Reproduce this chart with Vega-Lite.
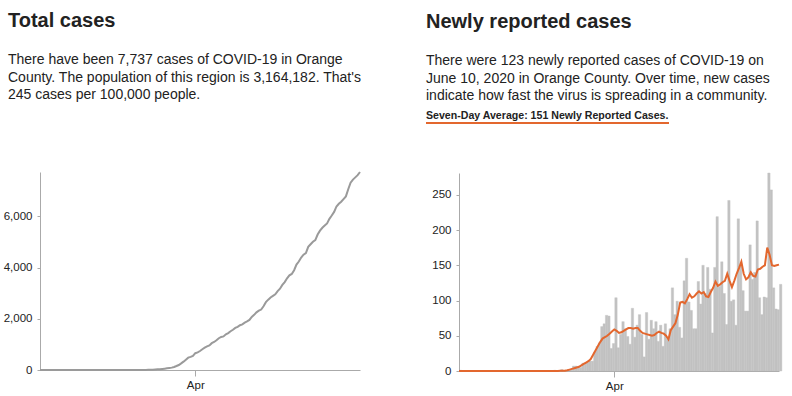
{
  "$schema": "https://vega.github.io/schema/vega-lite/v6.json",
  "padding": {"left": 3, "top": 11, "right": 5, "bottom": 0},
  "background": "white",
  "config": {
    "font": "Liberation Sans",
    "view": {"stroke": null},
    "axis": {"labelFont": "Liberation Sans", "labelFontSize": 11.5, "labelColor": "#222", "domainColor": "#aaa", "tickColor": "#aaa", "grid": false, "title": null},
    "title": {"anchor": "start", "frame": "bounds", "font": "Liberation Sans", "fontSize": 20, "fontWeight": "bold", "color": "#222", "subtitleFont": "Liberation Sans", "subtitleFontSize": 14, "subtitleColor": "#222", "subtitleLineHeight": 17.5, "subtitlePadding": 22}
  },
  "datasets": {
    "covid": [
      {"date": "2020-01-26T00:00", "cases": 1, "total": 1, "avg": 0.1},
      {"date": "2020-01-27T00:00", "cases": 0, "total": 1, "avg": 0.1},
      {"date": "2020-01-28T00:00", "cases": 0, "total": 1, "avg": 0.1},
      {"date": "2020-01-29T00:00", "cases": 0, "total": 1, "avg": 0.1},
      {"date": "2020-01-30T00:00", "cases": 0, "total": 1, "avg": 0.1},
      {"date": "2020-01-31T00:00", "cases": 0, "total": 1, "avg": 0.1},
      {"date": "2020-02-01T00:00", "cases": 0, "total": 1, "avg": 0.1},
      {"date": "2020-02-02T00:00", "cases": 0, "total": 1, "avg": 0},
      {"date": "2020-02-03T00:00", "cases": 0, "total": 1, "avg": 0},
      {"date": "2020-02-04T00:00", "cases": 0, "total": 1, "avg": 0},
      {"date": "2020-02-05T00:00", "cases": 0, "total": 1, "avg": 0},
      {"date": "2020-02-06T00:00", "cases": 0, "total": 1, "avg": 0},
      {"date": "2020-02-07T00:00", "cases": 0, "total": 1, "avg": 0},
      {"date": "2020-02-08T00:00", "cases": 0, "total": 1, "avg": 0},
      {"date": "2020-02-09T00:00", "cases": 0, "total": 1, "avg": 0},
      {"date": "2020-02-10T00:00", "cases": 0, "total": 1, "avg": 0},
      {"date": "2020-02-11T00:00", "cases": 0, "total": 1, "avg": 0},
      {"date": "2020-02-12T00:00", "cases": 0, "total": 1, "avg": 0},
      {"date": "2020-02-13T00:00", "cases": 0, "total": 1, "avg": 0},
      {"date": "2020-02-14T00:00", "cases": 0, "total": 1, "avg": 0},
      {"date": "2020-02-15T00:00", "cases": 0, "total": 1, "avg": 0},
      {"date": "2020-02-16T00:00", "cases": 0, "total": 1, "avg": 0},
      {"date": "2020-02-17T00:00", "cases": 0, "total": 1, "avg": 0},
      {"date": "2020-02-18T00:00", "cases": 0, "total": 1, "avg": 0},
      {"date": "2020-02-19T00:00", "cases": 0, "total": 1, "avg": 0},
      {"date": "2020-02-20T00:00", "cases": 0, "total": 1, "avg": 0},
      {"date": "2020-02-21T00:00", "cases": 0, "total": 1, "avg": 0},
      {"date": "2020-02-22T00:00", "cases": 0, "total": 1, "avg": 0},
      {"date": "2020-02-23T00:00", "cases": 0, "total": 1, "avg": 0},
      {"date": "2020-02-24T00:00", "cases": 0, "total": 1, "avg": 0},
      {"date": "2020-02-25T00:00", "cases": 0, "total": 1, "avg": 0},
      {"date": "2020-02-26T00:00", "cases": 0, "total": 1, "avg": 0},
      {"date": "2020-02-27T00:00", "cases": 0, "total": 1, "avg": 0},
      {"date": "2020-02-28T00:00", "cases": 0, "total": 1, "avg": 0},
      {"date": "2020-02-29T00:00", "cases": 0, "total": 1, "avg": 0},
      {"date": "2020-03-01T00:00", "cases": 0, "total": 1, "avg": 0},
      {"date": "2020-03-02T00:00", "cases": 0, "total": 1, "avg": 0},
      {"date": "2020-03-03T00:00", "cases": 0, "total": 1, "avg": 0},
      {"date": "2020-03-04T00:00", "cases": 0, "total": 1, "avg": 0},
      {"date": "2020-03-05T00:00", "cases": 0, "total": 1, "avg": 0},
      {"date": "2020-03-06T00:00", "cases": 1, "total": 2, "avg": 0.1},
      {"date": "2020-03-07T00:00", "cases": 0, "total": 2, "avg": 0.1},
      {"date": "2020-03-08T00:00", "cases": 0, "total": 2, "avg": 0.1},
      {"date": "2020-03-09T00:00", "cases": 2, "total": 4, "avg": 0.4},
      {"date": "2020-03-10T00:00", "cases": 0, "total": 4, "avg": 0.4},
      {"date": "2020-03-11T00:00", "cases": 0, "total": 4, "avg": 0.4},
      {"date": "2020-03-12T00:00", "cases": 1, "total": 5, "avg": 1},
      {"date": "2020-03-13T00:00", "cases": 2, "total": 7, "avg": 2},
      {"date": "2020-03-14T00:00", "cases": 7, "total": 14, "avg": 3},
      {"date": "2020-03-15T00:00", "cases": 7, "total": 21, "avg": 4},
      {"date": "2020-03-16T00:00", "cases": 5, "total": 26, "avg": 5},
      {"date": "2020-03-17T00:00", "cases": 5, "total": 31, "avg": 6},
      {"date": "2020-03-18T00:00", "cases": 11, "total": 42, "avg": 8},
      {"date": "2020-03-19T00:00", "cases": 11, "total": 53, "avg": 10},
      {"date": "2020-03-20T00:00", "cases": 12, "total": 65, "avg": 12},
      {"date": "2020-03-21T00:00", "cases": 14, "total": 79, "avg": 14},
      {"date": "2020-03-22T00:00", "cases": 14, "total": 93, "avg": 17},
      {"date": "2020-03-23T00:00", "cases": 27, "total": 120, "avg": 23},
      {"date": "2020-03-24T00:00", "cases": 35, "total": 155, "avg": 29},
      {"date": "2020-03-25T00:00", "cases": 40, "total": 195, "avg": 35},
      {"date": "2020-03-26T00:00", "cases": 63, "total": 258, "avg": 41},
      {"date": "2020-03-27T00:00", "cases": 67, "total": 325, "avg": 46},
      {"date": "2020-03-28T00:00", "cases": 79, "total": 404, "avg": 48},
      {"date": "2020-03-29T00:00", "cases": 78, "total": 482, "avg": 50},
      {"date": "2020-03-30T00:00", "cases": 32, "total": 514, "avg": 53},
      {"date": "2020-03-31T00:00", "cases": 39, "total": 553, "avg": 56},
      {"date": "2020-04-01T00:00", "cases": 104, "total": 657, "avg": 59},
      {"date": "2020-04-02T00:00", "cases": 33, "total": 690, "avg": 57},
      {"date": "2020-04-03T00:00", "cases": 52, "total": 742, "avg": 54},
      {"date": "2020-04-04T00:00", "cases": 70, "total": 812, "avg": 55},
      {"date": "2020-04-05T00:00", "cases": 60, "total": 872, "avg": 57},
      {"date": "2020-04-06T00:00", "cases": 49, "total": 921, "avg": 59},
      {"date": "2020-04-07T00:00", "cases": 38, "total": 959, "avg": 61},
      {"date": "2020-04-08T00:00", "cases": 89, "total": 1048, "avg": 61},
      {"date": "2020-04-09T00:00", "cases": 48, "total": 1096, "avg": 60},
      {"date": "2020-04-10T00:00", "cases": 65, "total": 1161, "avg": 61},
      {"date": "2020-04-11T00:00", "cases": 80, "total": 1241, "avg": 61},
      {"date": "2020-04-12T00:00", "cases": 52, "total": 1293, "avg": 57},
      {"date": "2020-04-13T00:00", "cases": 20, "total": 1313, "avg": 54},
      {"date": "2020-04-14T00:00", "cases": 83, "total": 1396, "avg": 53},
      {"date": "2020-04-15T00:00", "cases": 45, "total": 1441, "avg": 52},
      {"date": "2020-04-16T00:00", "cases": 72, "total": 1513, "avg": 51},
      {"date": "2020-04-17T00:00", "cases": 60, "total": 1573, "avg": 50},
      {"date": "2020-04-18T00:00", "cases": 70, "total": 1643, "avg": 51},
      {"date": "2020-04-19T00:00", "cases": 42, "total": 1685, "avg": 54},
      {"date": "2020-04-20T00:00", "cases": 65, "total": 1750, "avg": 56},
      {"date": "2020-04-21T00:00", "cases": 35, "total": 1785, "avg": 54},
      {"date": "2020-04-22T00:00", "cases": 67, "total": 1852, "avg": 53},
      {"date": "2020-04-23T00:00", "cases": 45, "total": 1897, "avg": 50},
      {"date": "2020-04-24T00:00", "cases": 60, "total": 1957, "avg": 45},
      {"date": "2020-04-25T00:00", "cases": 118, "total": 2075, "avg": 58},
      {"date": "2020-04-26T00:00", "cases": 80, "total": 2155, "avg": 63},
      {"date": "2020-04-27T00:00", "cases": 99, "total": 2254, "avg": 68},
      {"date": "2020-04-28T00:00", "cases": 62, "total": 2316, "avg": 80},
      {"date": "2020-04-29T00:00", "cases": 47, "total": 2363, "avg": 97},
      {"date": "2020-04-30T00:00", "cases": 128, "total": 2491, "avg": 98},
      {"date": "2020-05-01T00:00", "cases": 160, "total": 2651, "avg": 96},
      {"date": "2020-05-02T00:00", "cases": 98, "total": 2749, "avg": 102},
      {"date": "2020-05-03T00:00", "cases": 86, "total": 2835, "avg": 109},
      {"date": "2020-05-04T00:00", "cases": 60, "total": 2895, "avg": 104},
      {"date": "2020-05-05T00:00", "cases": 60, "total": 2955, "avg": 106},
      {"date": "2020-05-06T00:00", "cases": 127, "total": 3082, "avg": 110},
      {"date": "2020-05-07T00:00", "cases": 95, "total": 3177, "avg": 113},
      {"date": "2020-05-08T00:00", "cases": 150, "total": 3327, "avg": 110},
      {"date": "2020-05-09T00:00", "cases": 110, "total": 3437, "avg": 112},
      {"date": "2020-05-10T00:00", "cases": 147, "total": 3584, "avg": 106},
      {"date": "2020-05-11T00:00", "cases": 116, "total": 3700, "avg": 105},
      {"date": "2020-05-12T00:00", "cases": 54, "total": 3754, "avg": 112},
      {"date": "2020-05-13T00:00", "cases": 147, "total": 3901, "avg": 118},
      {"date": "2020-05-14T00:00", "cases": 219, "total": 4120, "avg": 127},
      {"date": "2020-05-15T00:00", "cases": 120, "total": 4240, "avg": 121},
      {"date": "2020-05-16T00:00", "cases": 155, "total": 4395, "avg": 123},
      {"date": "2020-05-17T00:00", "cases": 110, "total": 4505, "avg": 126},
      {"date": "2020-05-18T00:00", "cases": 66, "total": 4571, "avg": 128},
      {"date": "2020-05-19T00:00", "cases": 242, "total": 4813, "avg": 138},
      {"date": "2020-05-20T00:00", "cases": 99, "total": 4912, "avg": 128},
      {"date": "2020-05-21T00:00", "cases": 101, "total": 5013, "avg": 119},
      {"date": "2020-05-22T00:00", "cases": 65, "total": 5078, "avg": 128},
      {"date": "2020-05-23T00:00", "cases": 216, "total": 5294, "avg": 138},
      {"date": "2020-05-24T00:00", "cases": 150, "total": 5444, "avg": 146},
      {"date": "2020-05-25T00:00", "cases": 114, "total": 5558, "avg": 155},
      {"date": "2020-05-26T00:00", "cases": 85, "total": 5643, "avg": 138},
      {"date": "2020-05-27T00:00", "cases": 85, "total": 5728, "avg": 130},
      {"date": "2020-05-28T00:00", "cases": 179, "total": 5907, "avg": 133},
      {"date": "2020-05-29T00:00", "cases": 130, "total": 6037, "avg": 140},
      {"date": "2020-05-30T00:00", "cases": 140, "total": 6177, "avg": 135},
      {"date": "2020-05-31T00:00", "cases": 213, "total": 6390, "avg": 134},
      {"date": "2020-06-01T00:00", "cases": 104, "total": 6494, "avg": 144},
      {"date": "2020-06-02T00:00", "cases": 80, "total": 6574, "avg": 145},
      {"date": "2020-06-03T00:00", "cases": 105, "total": 6679, "avg": 148},
      {"date": "2020-06-04T00:00", "cases": 104, "total": 6783, "avg": 150},
      {"date": "2020-06-05T00:00", "cases": 281, "total": 7064, "avg": 175},
      {"date": "2020-06-06T00:00", "cases": 257, "total": 7321, "avg": 165},
      {"date": "2020-06-07T00:00", "cases": 118, "total": 7439, "avg": 150},
      {"date": "2020-06-08T00:00", "cases": 88, "total": 7527, "avg": 149},
      {"date": "2020-06-09T00:00", "cases": 87, "total": 7614, "avg": 150},
      {"date": "2020-06-10T00:00", "cases": 123, "total": 7737, "avg": 151}
    ]
  },
  "spacing": 62,
  "hconcat": [
    {
      "title": {
        "text": "Total cases",
        "subtitle": ["There have been 7,737 cases of COVID-19 in Orange", "County. The population of this region is 3,164,182. That's", "245 cases per 100,000 people."],
        "dx": 5,
        "offset": 20
      },
      "columns": 1,
      "align": "none",
      "spacing": 44,
      "concat": [
        {
          "width": 320,
          "height": 2,
          "data": {"values": [{"series": "spacer"}]},
          "mark": {"type": "rect", "opacity": 0},
          "encoding": {}
        },
        {
          "width": 320,
          "height": 198,
          "data": {"name": "covid"},
          "mark": {"type": "line", "color": "#9a9a9a", "strokeWidth": 2},
          "encoding": {
            "x": {
              "field": "date", "type": "temporal",
              "scale": {"domain": [{"year": 2020, "month": 1, "date": 26}, {"year": 2020, "month": 6, "date": 10}]},
              "axis": {"values": [{"year": 2020, "month": 4, "date": 1}], "format": "%b", "tickSize": 6, "labelPadding": 3}
            },
            "y": {
              "field": "total", "type": "quantitative",
              "scale": {"domain": [0, 7737], "nice": false},
              "axis": {"values": [0, 2000, 4000, 6000], "format": ",d", "tickSize": 3, "labelPadding": 5, "minExtent": 37}
            }
          }
        }
      ]
    },
    {
      "title": {
        "text": "Newly reported cases",
        "subtitle": ["There were 123 newly reported cases of COVID-19 on", "June 10, 2020 in Orange County. Over time, new cases", "indicate how fast the virus is spreading in a community."],
        "offset": 8
      },
      "columns": 1,
      "align": "none",
      "spacing": 48,
      "concat": [
        {
          "title": {"text": "Seven-Day Average: 151 Newly Reported Cases.", "fontSize": 10.6, "fontWeight": "bold", "color": "#222", "offset": 0},
          "width": 243,
          "height": 2,
          "data": {"values": [{"series": "Seven-Day Average"}]},
          "mark": {"type": "rect", "color": "#e3672e"},
          "encoding": {}
        },
        {
          "width": 353,
          "height": 198,
          "data": {"name": "covid"},
          "layer": [
            {
              "mark": {"type": "bar", "color": "#c2c2c2", "binSpacing": 0, "stroke": "#c2c2c2", "strokeWidth": 0.4},
              "encoding": {
                "x": {
                  "field": "date", "timeUnit": "yearmonthdate", "type": "temporal",
                  "scale": {"domain": [{"year": 2020, "month": 1, "date": 26}, {"year": 2020, "month": 6, "date": 10}], "range": [33, 353]},
                  "axis": {"values": [{"year": 2020, "month": 4, "date": 1}], "format": "%b", "tickSize": 6, "labelPadding": 3}
                },
                "y": {
                  "field": "cases", "type": "quantitative",
                  "scale": {"domain": [0, 281], "nice": false},
                  "axis": {"values": [0, 50, 100, 150, 200, 250], "tickSize": 3, "labelPadding": 5, "offset": -33}
                }
              }
            },
            {
              "mark": {"type": "line", "color": "#e3672e", "strokeWidth": 2},
              "encoding": {
                "x": {
                  "field": "date", "type": "temporal",
                  "axis": {"values": [{"year": 2020, "month": 4, "date": 1}], "format": "%b", "tickSize": 6, "labelPadding": 3}
                },
                "y": {
                  "field": "avg", "type": "quantitative",
                  "axis": {"values": [0, 50, 100, 150, 200, 250], "tickSize": 3, "labelPadding": 5, "offset": -33}
                }
              }
            }
          ]
        }
      ]
    }
  ]
}
